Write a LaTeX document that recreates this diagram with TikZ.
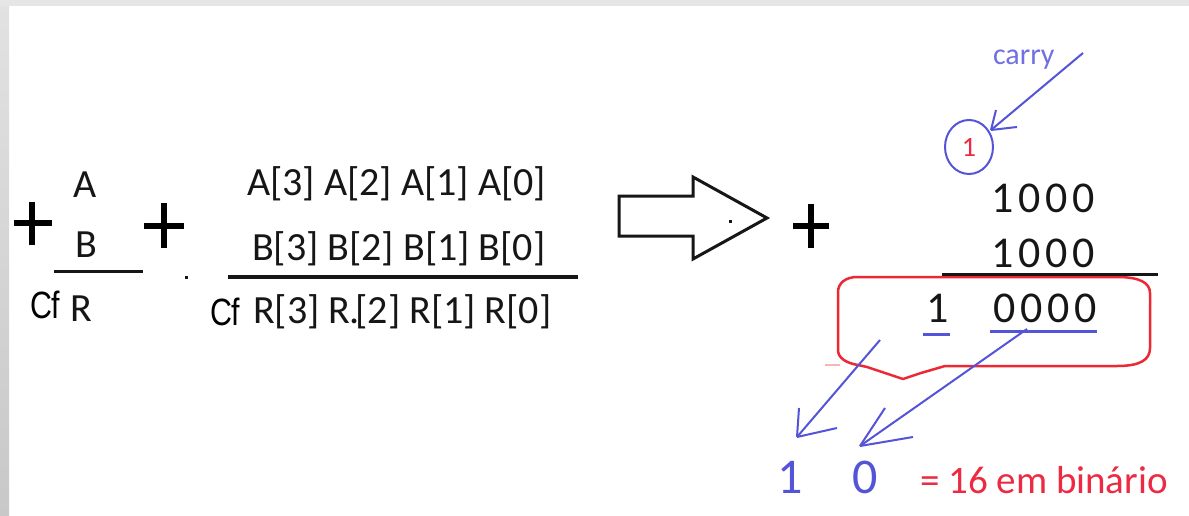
\documentclass[tikz,border=0pt]{standalone}
\usepackage{fontspec}
\setmainfont{Carlito}
\newfontfamily\cffont{Liberation Sans}
\usetikzlibrary{shapes.geometric}
\definecolor{ink}{RGB}{22,22,22}
\definecolor{pen}{RGB}{84,84,216}
\definecolor{redpen}{RGB}{236,40,52}
\definecolor{redtxt}{RGB}{236,42,66}
\definecolor{carrytxt}{RGB}{112,112,226}
\definecolor{edgetop}{RGB}{230,230,230}
\definecolor{edgeltop}{RGB}{226,226,226}
\definecolor{edgelbot}{RGB}{200,200,200}
\begin{document}
\begin{tikzpicture}[x=1pt,y=-1pt,
  txt/.style={inner sep=0pt, outer sep=0pt, anchor=base, text=ink, font=\fontsize{40}{48}\selectfont},
  cfstyle/.style={inner sep=0pt, outer sep=0pt, anchor=base west, text=black, font=\cffont\fontsize{38}{46}\selectfont},
  digits/.style={inner sep=0pt, outer sep=0pt, anchor=base west, text=ink, font=\fontsize{44}{52}\selectfont},
  rule/.style={draw=ink, line width=3pt},
  plussign/.style={draw=black, line width=6.5pt},
  bluepen/.style={draw=pen, line width=2pt},
  blueline/.style={draw=pen, line width=3pt},
  redbox/.style={draw=redpen, line width=2.5pt, line join=round},
  blockarrow/.style={draw=ink, line width=3pt, line join=miter},
  bin/.style={inner sep=0pt, outer sep=0pt, anchor=base, text=pen, font=\fontsize{50}{58}\selectfont},
]
\useasboundingbox (0,0) rectangle (1189,516);
\fill[white] (0,0) rectangle (1189,516);
\shade[top color=edgeltop, bottom color=edgelbot] (0,0) rectangle (9,516);
\fill[edgetop] (0,0) rectangle (1189,6);

% left: single-bit sum
\draw[plussign] (14,223) -- (52,223) (32,202) -- (32,245);
\node[txt] (a) at (85,197) {A};
\node[txt] (b) at (86,257) {B};
\draw[rule] (54,271) -- (143,271);
\node[cfstyle] (cf1) at (30,318) {\scalebox{0.8}[1]{Cf}};
\node[txt] (r) at (81,321) {R};

\draw[plussign] (144,226) -- (184,226) (164,203) -- (164,248);
\fill[ink] (185,276) rectangle (188,279);

% middle: 4-bit sum
\node[txt, anchor=base west] (arow) at (247,195) {A[3] A[2] A[1] A[0]};
\node[txt, anchor=base west] (brow) at (252,260) {B[3] B[2] B[1] B[0]};
\draw[rule, line width=3.5pt] (228,277) -- (578,277);
\node[cfstyle] (cf2) at (210,325) {\scalebox{0.8}[1]{Cf}};
\node[txt, anchor=base west] (rrow) at (253,323) {R[3] R{\kern-1pt}.{\kern-4pt}[2] R[1] R[0]};

% block arrow
\draw[blockarrow] (619,196) -- (693,196) -- (693,177) -- (767,218) -- (693,259) -- (693,236) -- (619,236) -- cycle;
\fill[ink] (729,220) rectangle (732,223);

% right: example
\draw[plussign] (793,226) -- (829,226) (811,204) -- (811,248);

\node[inner sep=0pt, outer sep=0pt, anchor=base west, text=carrytxt, font=\fontsize{30}{36}\selectfont] (carry) at (993,65) {carry};
\coordinate (ctail) at (1083,53);
\coordinate (ctip) at (991,130);
\draw[bluepen] (ctail) -- (ctip);
\draw[bluepen] (ctip) -- ++(5,-20) (ctip) -- ++(26,-3);
\node[ellipse, draw=pen, line width=2pt, minimum width=48pt, minimum height=54pt, inner sep=0pt,
      text=redtxt, font=\fontsize{28}{32}\selectfont] (cbit) at (969,147) {1};

\node[digits] (top1) at (991,212) {1\kern5pt0\kern5pt0\kern5pt0};
\node[digits] (top2) at (991,267) {1\kern5pt0\kern5pt0\kern5pt0};

% red box
\draw[redbox] (838,292) -- (838,350) .. controls (838,358) and (846,363) .. (858,365)
  -- (867,367) -- (903,379) -- (921,373) -- (945,366) -- (1117,366)
  .. controls (1140,366) and (1150,360) .. (1150,348) -- (1150,293)
  .. controls (1150,283) and (1140,277) .. (1117,277) -- (857,277)
  .. controls (846,277) and (838,283) .. (838,292) -- cycle;
\draw[draw=redpen!35, line width=2pt] (825,365) -- (840,365);
\draw[rule] (942,274) -- (1158,274);

\node[digits, anchor=base] (res1) at (938,322) {1};
\node[digits] (res0) at (993,322) {0\kern5pt0\kern5pt0\kern5pt0};
\draw[blueline] (923,334) -- (950,334);
\draw[blueline] (990,331) -- (1097,331);

% arrows to binary digits
\coordinate (t1) at (880,340);
\coordinate (h1) at (797,437);
\coordinate (t2) at (1027,329);
\coordinate (h2) at (860,446);
\draw[bluepen] (t1) -- (h1);
\draw[bluepen] (h1) -- ++(2,-29) (h1) -- ++(40,-9);
\draw[bluepen] (t2) -- (h2);
\draw[bluepen] (h2) -- ++(25,-38) (h2) -- ++(53,-9);

\node[bin] (bin1) at (790,493) {1};
\node[bin] (bin0) at (865,493) {0};
\node[inner sep=0pt, outer sep=0pt, anchor=base west, text=redtxt, font=\fontsize{39}{46}\selectfont] (eq) at (920,493) {= 16 em binário};
\end{tikzpicture}
\end{document}
